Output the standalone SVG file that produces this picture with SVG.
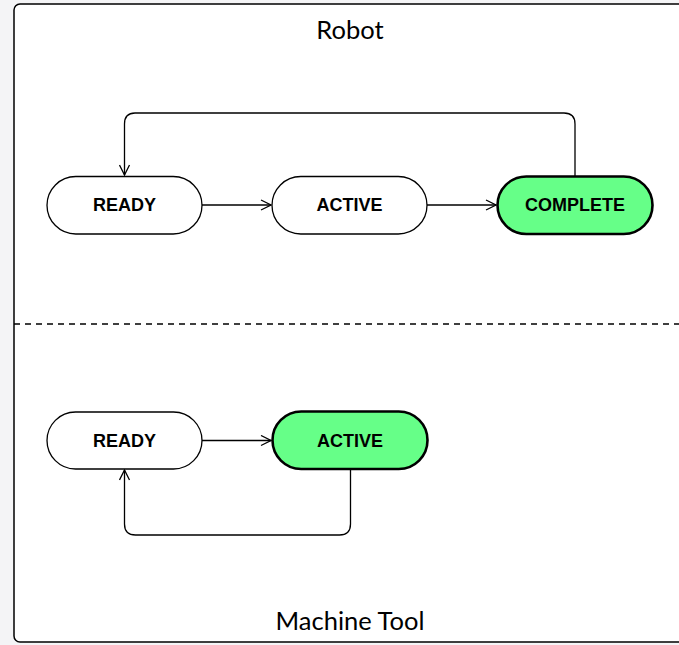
<svg xmlns="http://www.w3.org/2000/svg" width="679" height="645" viewBox="0 0 679 645">
  <defs>
    <marker id="arrow" viewBox="0 0 12 12" refX="11" refY="6" markerWidth="12" markerHeight="12" markerUnits="userSpaceOnUse" orient="auto">
      <path d="M1,1 L11,6 L1,11" fill="none" stroke="#000" stroke-width="1.3"/>
    </marker>
  </defs>
  <style>
    .frame { fill: #fff; stroke: #000; stroke-width: 1.5; }
    .divider { stroke: #000; stroke-width: 1.5; stroke-dasharray: 6 5; }
    .title { font-family: Lato, "Noto Sans", sans-serif; font-size: 25.5px; fill: #000; text-anchor: middle; }
    .state { fill: #fff; stroke: #000; stroke-width: 1.3; }
    .state.current { fill: #66ff88; stroke-width: 2.6; }
    .label { font-family: "Liberation Sans", Arial, sans-serif; font-weight: bold; font-size: 18px; fill: #000; text-anchor: middle; dominant-baseline: central; }
    .edge { fill: none; stroke: #000; stroke-width: 1.3; marker-end: url(#arrow); }
  </style>

  <rect x="0" y="0" width="679" height="645" fill="#f4f4f6"/>
  <rect class="frame" x="14" y="4" width="690" height="638" rx="6"/>
  <line class="divider" x1="14" y1="324" x2="679" y2="324"/>

  <text class="title" x="350" y="39">Robot</text>
  <text class="title" x="350" y="630">Machine Tool</text>

  <g id="robot-ready">
    <rect class="state" x="47" y="176.5" width="155" height="57.5" rx="28.75"/>
    <text class="label" x="124.5" y="205">READY</text>
  </g>
  <g id="robot-active">
    <rect class="state" x="272" y="176.5" width="155" height="57.5" rx="28.75"/>
    <text class="label" x="349.5" y="205">ACTIVE</text>
  </g>
  <g id="robot-complete">
    <rect class="state current" x="497.5" y="176.5" width="155" height="57.5" rx="28.75"/>
    <text class="label" x="575" y="205">COMPLETE</text>
  </g>

  <g id="tool-ready">
    <rect class="state" x="47" y="412" width="155" height="57" rx="28.5"/>
    <text class="label" x="124.5" y="440.5">READY</text>
  </g>
  <g id="tool-active">
    <rect class="state current" x="272.5" y="411.5" width="155" height="57.5" rx="28.75"/>
    <text class="label" x="350" y="440.5">ACTIVE</text>
  </g>

  <g id="connectors">
    <path class="edge" d="M202,205 H271"/>
    <path class="edge" d="M427,205 H496"/>
    <path class="edge" d="M575,176.5 V124 Q575,113 564,113 H135 Q124.5,113 124.5,124 V175"/>
    <path class="edge" d="M202,440.5 H271"/>
    <path class="edge" d="M350.5,469 V524 Q350.5,535 339.5,535 H135.5 Q124.5,535 124.5,524 V470"/>
  </g>
</svg>
